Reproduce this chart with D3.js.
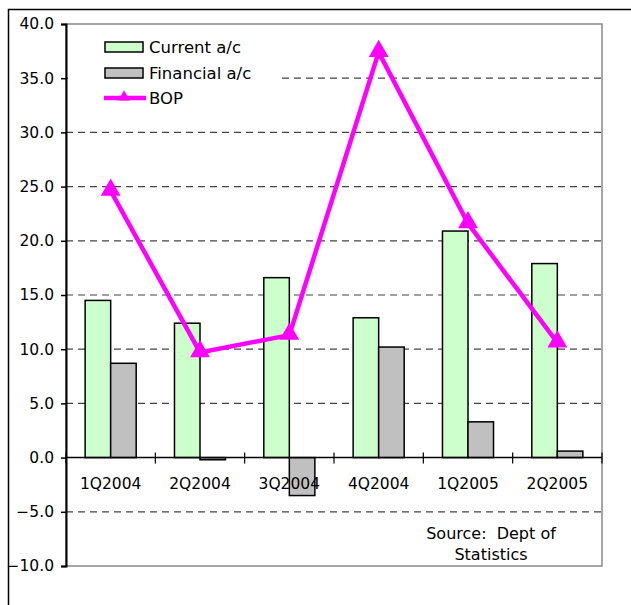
<!DOCTYPE html>
<html>
<head>
<meta charset="utf-8">
<script src="https://cdn.jsdelivr.net/npm/d3@7"></script>
<style>
  body { margin: 0; background: #fff; }
  svg { display: block; }
</style>
</head>
<body>
<div id="chart"></div>
<script>
// values
const quarters = ["1Q2004", "2Q2004", "3Q2004", "4Q2004", "1Q2005", "2Q2005"];
const currentAc = [14.5, 12.4, 16.6, 12.9, 20.9, 17.9];
const financialAc = [8.7, -0.2, -3.5, 10.2, 3.3, 0.6];
const bop = [24.6, 9.7, 11.3, 37.4, 21.6, 10.6];
const yTicks = [-10, -5, 0, 5, 10, 15, 20, 25, 30, 35, 40];
const seriesNames = ["Current a/c", "Financial a/c", "BOP"];

const width = 631, height = 605;
const plot = {left: 66, top: 24, right: 602, bottom: 566};
const font = "DejaVu Sans, Verdana, sans-serif";

const svg = d3.select("#chart").append("svg")
  .attr("width", width)
  .attr("height", height);

// outer chart frame (runs off the picture on the right and bottom)
svg.append("rect")
  .attr("x", 8.5).attr("y", 9.5)
  .attr("width", 700).attr("height", 700)
  .attr("fill", "none")
  .attr("stroke", "#000")
  .attr("stroke-width", 1.5);

const x = d3.scaleBand()
  .domain(quarters)
  .range([plot.left, plot.right]);

const xs = d3.scaleBand()
  .domain(["cur", "fin"])
  .range([0, x.bandwidth()])
  .paddingOuter(0.75)
  .paddingInner(0);

const y = d3.scaleLinear()
  .domain([-10, 40])
  .range([plot.bottom, plot.top]);

// plot area border
svg.append("rect")
  .attr("x", plot.left).attr("y", plot.top)
  .attr("width", plot.right - plot.left)
  .attr("height", plot.bottom - plot.top)
  .attr("fill", "none")
  .attr("stroke", "#888")
  .attr("stroke-width", 1.5);

// dashed gridlines
svg.append("g")
  .selectAll("line")
  .data(yTicks.filter(d => d !== 0 && d !== 40 && d !== -10))
  .join("line")
  .attr("x1", plot.left).attr("x2", plot.right)
  .attr("y1", d => y(d)).attr("y2", d => y(d))
  .attr("stroke", "#444")
  .attr("stroke-width", 1.2)
  .attr("stroke-dasharray", "7,5");

// legend box: white, hides the gridline behind it
svg.append("rect")
  .attr("x", plot.left + 2).attr("y", plot.top + 2)
  .attr("width", 212).attr("height", 88)
  .attr("fill", "#fff");

// left axis
const yAxis = svg.append("g")
  .attr("transform", `translate(${plot.left},0)`)
  .call(d3.axisLeft(y).tickValues(yTicks).tickFormat(d3.format(".1f")).tickSize(5).tickPadding(7));
yAxis.select(".domain").attr("stroke", "#000").attr("stroke-width", 2);
yAxis.selectAll(".tick line").attr("stroke", "#000").attr("stroke-width", 1.5);
yAxis.selectAll("text")
  .attr("font-family", font)
  .attr("font-size", "15.5px")
  .attr("fill", "#000");

// bars
const groups = svg.append("g")
  .selectAll("g")
  .data(quarters)
  .join("g")
  .attr("transform", d => `translate(${x(d)},0)`);

groups.append("rect")
  .attr("x", xs("cur"))
  .attr("y", (d, i) => y(Math.max(0, currentAc[i])))
  .attr("width", xs.bandwidth())
  .attr("height", (d, i) => Math.abs(y(currentAc[i]) - y(0)))
  .attr("fill", "#ccffcc")
  .attr("stroke", "#000")
  .attr("stroke-width", 1.5);

groups.append("rect")
  .attr("x", xs("fin"))
  .attr("y", (d, i) => y(Math.max(0, financialAc[i])))
  .attr("width", xs.bandwidth())
  .attr("height", (d, i) => Math.abs(y(financialAc[i]) - y(0)))
  .attr("fill", "#c0c0c0")
  .attr("stroke", "#000")
  .attr("stroke-width", 1.5);

// x axis at zero with ticks between categories
svg.append("line")
  .attr("x1", plot.left).attr("x2", plot.right)
  .attr("y1", y(0)).attr("y2", y(0))
  .attr("stroke", "#000")
  .attr("stroke-width", 1.5);

const bounds = quarters.map(q => x(q)).concat([plot.right]);
svg.append("g")
  .selectAll("line")
  .data(bounds)
  .join("line")
  .attr("x1", d => d).attr("x2", d => d)
  .attr("y1", y(0) - 5).attr("y2", y(0) + 6)
  .attr("stroke", "#000")
  .attr("stroke-width", 1.2);

svg.append("g")
  .selectAll("text")
  .data(quarters)
  .join("text")
  .attr("x", d => x(d) + x.bandwidth() / 2)
  .attr("y", y(0) + 31)
  .attr("text-anchor", "middle")
  .attr("font-family", font)
  .attr("font-size", "15.5px")
  .text(d => d);

// BOP line with triangle markers
const line = d3.line()
  .x((d, i) => x(quarters[i]) + x.bandwidth() / 2)
  .y(d => y(d));

svg.append("path")
  .datum(bop)
  .attr("d", line)
  .attr("fill", "none")
  .attr("stroke", "#ff00ff")
  .attr("stroke-width", 4.5)
  .attr("stroke-linejoin", "miter");

const tri = d3.symbol().type(d3.symbolTriangle).size(170);
svg.append("g")
  .selectAll("path")
  .data(bop)
  .join("path")
  .attr("transform", (d, i) => `translate(${x(quarters[i]) + x.bandwidth() / 2},${y(d) - 1})`)
  .attr("d", tri)
  .attr("fill", "#ff00ff");

// legend
const legend = svg.append("g").attr("font-family", font).attr("font-size", "16.5px");
const legendY = [47, 73, 98];
const legendFills = ["#ccffcc", "#c0c0c0"];

legend.selectAll(".swatch")
  .data(legendFills)
  .join("rect")
  .attr("class", "swatch")
  .attr("x", 105).attr("y", (d, i) => legendY[i] - 5)
  .attr("width", 38).attr("height", 10)
  .attr("fill", d => d)
  .attr("stroke", "#000")
  .attr("stroke-width", 1.5);

legend.append("line")
  .attr("x1", 104).attr("x2", 146)
  .attr("y1", legendY[2]).attr("y2", legendY[2])
  .attr("stroke", "#ff00ff")
  .attr("stroke-width", 4.5);

legend.append("path")
  .attr("transform", `translate(124,${legendY[2] - 1})`)
  .attr("d", d3.symbol().type(d3.symbolTriangle).size(60))
  .attr("fill", "#ff00ff");

legend.selectAll("text")
  .data(seriesNames)
  .join("text")
  .attr("x", 149)
  .attr("y", (d, i) => legendY[i] + 6)
  .text(d => d);

// source note
const note = svg.append("text")
  .attr("font-family", font)
  .attr("font-size", "16px")
  .attr("text-anchor", "middle");
note.append("tspan").attr("x", 491).attr("y", 539).attr("xml:space", "preserve").text("Source:  Dept of");
note.append("tspan").attr("x", 491).attr("y", 560).text("Statistics");
</script>
</body>
</html>
